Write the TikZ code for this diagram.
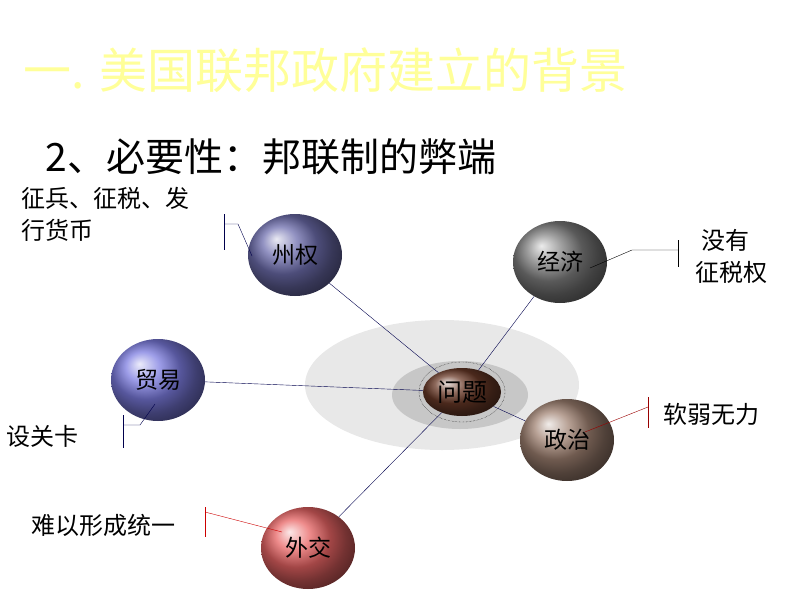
\documentclass[tikz,border=0pt]{standalone}
\usepackage{fontspec}
\setmainfont{Noto Sans CJK SC}
\usetikzlibrary{shapes.geometric}
\definecolor{titleyellow}{HTML}{FFFF99}
\definecolor{zhouc}{HTML}{6E6EAE}
\definecolor{maoc}{HTML}{7C7CE0}
\definecolor{jingc}{HTML}{808080}
\definecolor{zhengc}{HTML}{A08272}
\definecolor{waic}{HTML}{E86464}
\definecolor{wenc}{HTML}{6A3A28}
\tikzset{
  ball/.style={ellipse,minimum width=94pt,minimum height=82pt,shading=ball,font=\fontsize{23}{23}\selectfont},
  link/.style={draw=black!70!blue,thin},
  tick/.style={thin},
  note/.style={font=\fontsize{24}{32}\selectfont,align=left}
}
\begin{document}
\begin{tikzpicture}[x=1pt,y=-1pt]
\useasboundingbox (0,0) rectangle (794,596);
\node[text=titleyellow,font=\fontsize{48}{48}\selectfont,anchor=west] (title) at (20,70) {一. 美国联邦政府建立的背景};
\node[font=\fontsize{39}{39}\selectfont,anchor=west] (sub) at (42,157) {2、必要性：邦联制的弊端};

% halo
\fill[black!9] (442,385) ellipse (137 and 65);
\fill[black!22] (460,395) ellipse (68 and 34);

\node[ball,ball color=zhouc] (zhou) at (295,255) {州权};
\node[ball,ball color=jingc] (jing) at (560,262) {经济};
\node[ball,ball color=maoc] (mao) at (158,380) {贸易};
\node[ball,ball color=zhengc] (zheng) at (567,440) {政治};
\node[ball,ball color=waic] (wai) at (308,548) {外交};
\node[ellipse,minimum width=78pt,minimum height=48pt,inner sep=0pt,shading=ball,ball color=wenc,font=\fontsize{25}{25}\selectfont] (wen) at (462,392) {问题};
\draw[densely dotted] (462,392) ellipse (43 and 30);

% connectors
\draw[link] (zhou) -- (wen);
\draw[link] (mao) -- (wen);
\draw[link] (jing) -- (wen);
\draw[link] (zheng) -- (wen);
\draw[link] (wai) -- (wen);

% callouts
\coordinate (c1) at (224,224);
\draw[tick,black!70!blue] (252,256) -- (238,224) -- (c1);
\draw[tick,black!70!blue] (224,214) -- (224,250);
\node[note,anchor=north west] (n1) at (18,184) {征兵、征税、发\\行货币};

\coordinate (c2) at (678,250);
\draw[tick] (590,268) -- (632,250) -- (c2);
\draw[tick] (678,240) -- (678,267);
\node[note,anchor=west] (n2a) at (698,240) {没有};
\node[note,anchor=west] (n2b) at (692,272) {征税权};

\coordinate (c3) at (123,425);
\draw[tick,black!70!blue] (155,404) -- (140,425) -- (c3);
\draw[tick,black!70!blue] (123,415) -- (123,448);
\node[note,anchor=west] (n3) at (3,436) {设关卡};

\coordinate (c4) at (648,407);
\draw[tick,red!60!black] (585,432) -- (c4);
\draw[tick,red!60!black] (648,397) -- (648,428);
\node[note,anchor=west] (n4) at (660,414) {软弱无力};

\coordinate (c5) at (205,512);
\draw[tick,red!80!black] (282,532) -- (c5);
\draw[tick,red!80!black] (205,507) -- (205,537);
\node[note,anchor=west] (n5) at (28,525) {难以形成统一};
\end{tikzpicture}
\end{document}
